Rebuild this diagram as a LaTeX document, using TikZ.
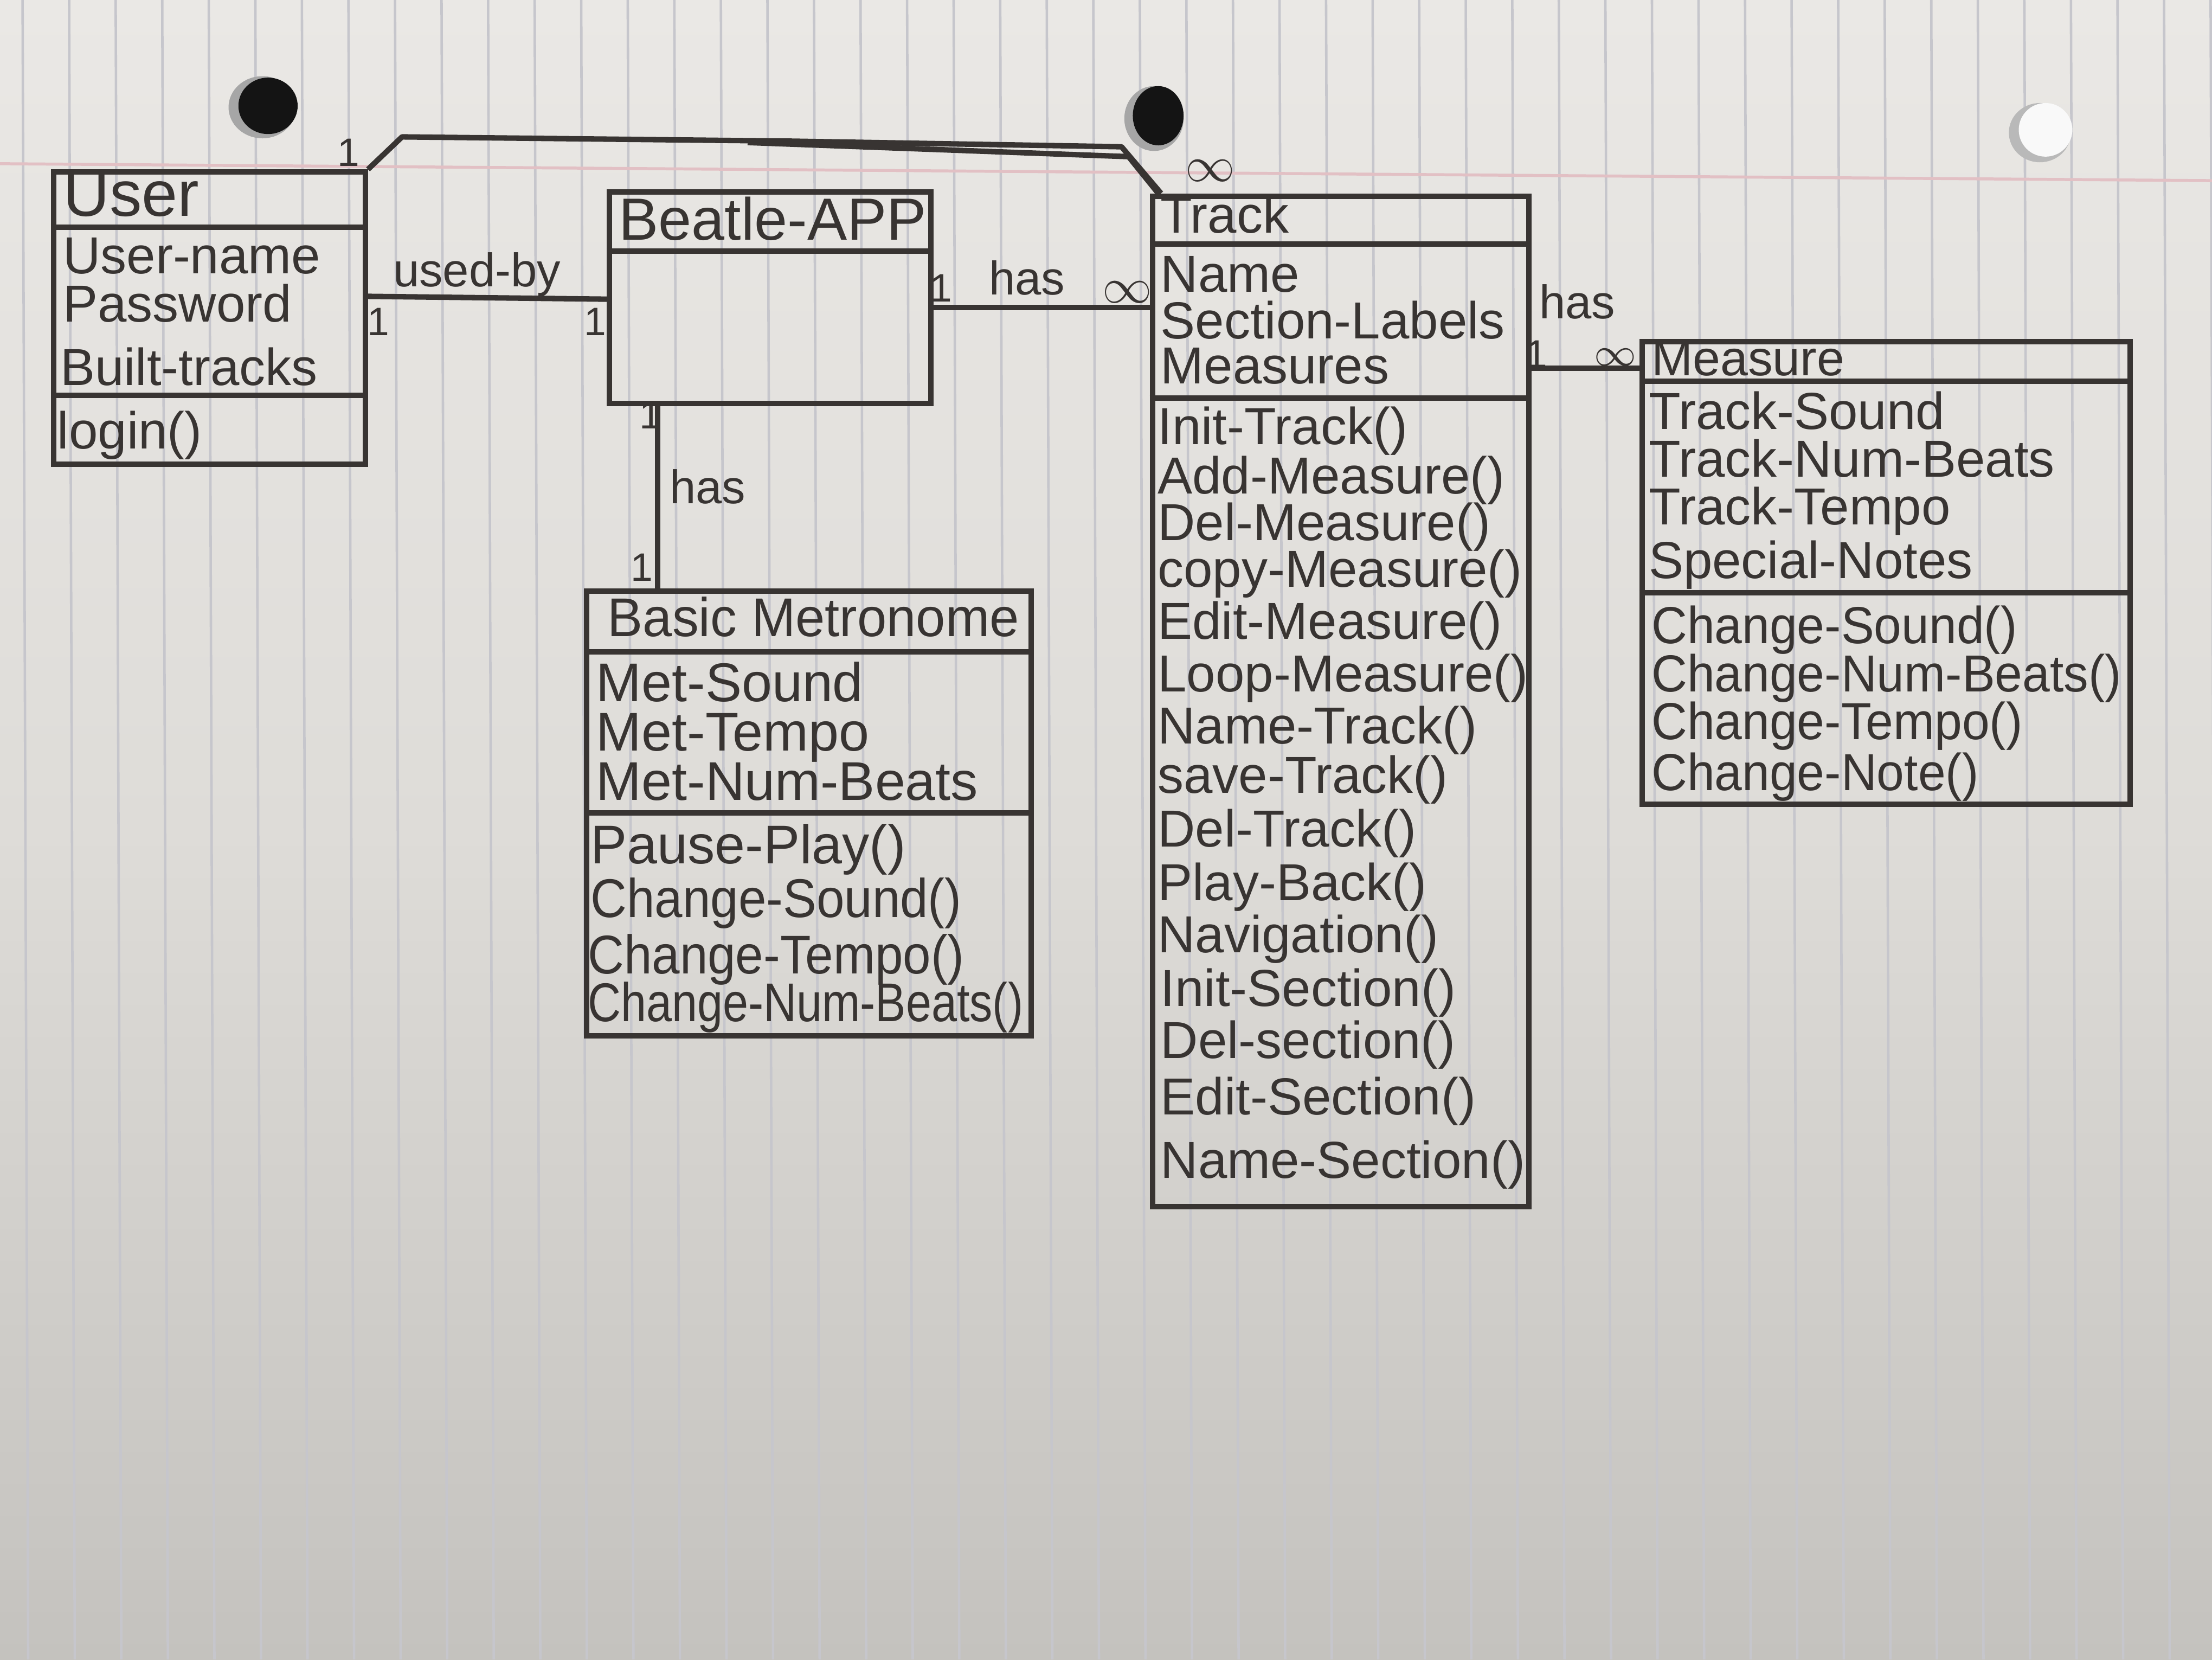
\documentclass[tikz,border=0pt]{standalone}
\usepackage{fontspec}
\usepackage{graphicx}
\setmainfont{Liberation Sans}
\usetikzlibrary{calc}
\definecolor{ink}{RGB}{56,52,50}
\definecolor{paperlight}{RGB}{234,232,229}
\definecolor{papermid}{RGB}{222,220,216}
\definecolor{paperdark}{RGB}{196,194,190}
\definecolor{rulecol}{RGB}{198,198,204}
\definecolor{margincol}{RGB}{226,192,196}
\tikzset{
  classbox/.style={draw=ink, line width=1.1pt, anchor=north west, inner sep=0pt},
  sepline/.style={draw=ink, line width=1.1pt},
  conn/.style={draw=ink, line width=1.1pt, line join=round},
  ttl/.style={text=ink, anchor=base west, inner sep=0pt, font=\fontsize{12}{12}\selectfont},
  ent/.style={text=ink, anchor=base west, inner sep=0pt, font=\fontsize{10.5}{10.5}\selectfont},
  lbl/.style={text=ink, inner sep=0pt, font=\fontsize{9.5}{9.5}\selectfont},
  mult/.style={text=ink, inner sep=0pt, font=\fontsize{8}{8}\selectfont},
  inf/.style={text=ink, inner sep=0pt, font=\fontsize{10}{10}\selectfont},
}
\newcommand{\sqz}[2]{\scalebox{#1}[1]{#2}}
\begin{document}
\begin{tikzpicture}[x=0.1mm,y=-0.1mm]
\useasboundingbox (0,0) rectangle (1568,1176);
% paper
\shade[top color=paperlight, bottom color=paperdark, middle color=papermid] (0,0) rectangle (1568,1176);
\foreach \i in {0,...,47} {
  \draw[rulecol, line width=0.5pt] ({16+33*\i},0) -- ({20+33*\i},1176);
}
\draw[margincol, line width=0.6pt] (0,116) -- (1568,128);
% punched holes
\fill[gray!70] (186,76) ellipse [x radius=24, y radius=22];
\fill[black!92] (190,75) ellipse [x radius=21, y radius=20];
\fill[gray!70] (818,84) ellipse [x radius=21, y radius=23];
\fill[black!92] (821,82) ellipse [x radius=18, y radius=21];
\fill[gray!55] (1446,94) ellipse [x radius=22, y radius=21];
\fill[white!95!gray] (1450,92) ellipse [x radius=19, y radius=19];

% ---------- User ----------
\node[classbox, minimum width=22.1mm, minimum height=20.7mm] (user) at (36,120) {};
\draw[sepline] ($(user.north west)+(0,41)$) -- ($(user.north east)+(0,41)$);
\draw[sepline] ($(user.north west)+(0,160)$) -- ($(user.north east)+(0,160)$);
\node[ttl, font=\fontsize{13}{13}\selectfont] (userT) at (44,153) {User};
\node[ent] (userA1) at (44,194) {User-name};
\node[ent] (userA2) at (44,228) {Password};
\node[ent] (userA3) at (42,273) {Built-tracks};
\node[ent] (userM1) at (40,318) {login()};

% ---------- Beatle-APP ----------
\node[classbox, minimum width=22.8mm, minimum height=15.0mm] (beatle) at (430,134) {};
\draw[sepline] ($(beatle.north west)+(0,44)$) -- ($(beatle.north east)+(0,44)$);
\node[ttl] (beatleT) at (438,170) {Beatle-APP};

% ---------- Track ----------
\node[classbox, minimum width=26.7mm, minimum height=71.6mm] (track) at (815,137) {};
\draw[sepline] ($(track.north west)+(0,36)$) -- ($(track.north east)+(0,36)$);
\draw[sepline] ($(track.north west)+(0,145)$) -- ($(track.north east)+(0,145)$);
\node[ttl, font=\fontsize{10.5}{10.5}\selectfont] (trackT) at (822,165) {Track};
\node[ent] (trackA1) at (822,207) {Name};
\node[ent] (trackA2) at (822,240) {Section-Labels};
\node[ent] (trackA3) at (822,272) {Measures};
\node[ent] (trackM1) at (820,315) {Init-Track()};
\node[ent] (trackM2) at (820,350) {Add-Measure()};
\node[ent] (trackM3) at (820,383) {Del-Measure()};
\node[ent] (trackM4) at (820,416) {copy-Measure()};
\node[ent] (trackM5) at (820,453) {Edit-Measure()};
\node[ent] (trackM6) at (820,490) {Loop-Measure()};
\node[ent] (trackM7) at (820,527) {Name-Track()};
\node[ent] (trackM8) at (820,562) {save-Track()};
\node[ent] (trackM9) at (820,600) {Del-Track()};
\node[ent] (trackM10) at (820,638) {Play-Back()};
\node[ent] (trackM11) at (820,675) {Navigation()};
\node[ent] (trackM12) at (822,713) {Init-Section()};
\node[ent] (trackM13) at (822,750) {Del-section()};
\node[ent] (trackM14) at (822,790) {Edit-Section()};
\node[ent] (trackM15) at (822,835) {Name-Section()};

% ---------- Measure ----------
\node[classbox, minimum width=34.6mm, minimum height=32.8mm] (measure) at (1162,240) {};
\draw[sepline] ($(measure.north west)+(0,30)$) -- ($(measure.north east)+(0,30)$);
\draw[sepline] ($(measure.north west)+(0,180)$) -- ($(measure.north east)+(0,180)$);
\node[ent, font=\fontsize{10}{10}\selectfont] (measureT) at (1170,266) {Measure};
\node[ent] (measureA1) at (1168,304) {Track-Sound};
\node[ent] (measureA2) at (1168,338) {Track-Num-Beats};
\node[ent] (measureA3) at (1168,372) {Track-Tempo};
\node[ent] (measureA4) at (1168,410) {Special-Notes};
\node[ent] (measureM1) at (1170,456) {\sqz{0.95}{Change-Sound()}};
\node[ent] (measureM2) at (1170,490) {\sqz{0.95}{Change-Num-Beats()}};
\node[ent] (measureM3) at (1170,524) {\sqz{0.95}{Change-Tempo()}};
\node[ent] (measureM4) at (1170,560) {\sqz{0.95}{Change-Note()}};

% ---------- Basic Metronome ----------
\node[classbox, minimum width=31.5mm, minimum height=31.5mm] (metro) at (414,417) {};
\draw[sepline] ($(metro.north west)+(0,45)$) -- ($(metro.north east)+(0,45)$);
\draw[sepline] ($(metro.north west)+(0,159)$) -- ($(metro.north east)+(0,159)$);
\node[ttl, font=\fontsize{11}{11}\selectfont] (metroT) at (430,451) {\sqz{0.97}{Basic Metronome}};
\node[ent, font=\fontsize{11}{11}\selectfont] (metroA1) at (422,497) {Met-Sound};
\node[ent, font=\fontsize{11}{11}\selectfont] (metroA2) at (422,532) {Met-Tempo};
\node[ent, font=\fontsize{11}{11}\selectfont] (metroA3) at (422,567) {Met-Num-Beats};
\node[ent, font=\fontsize{11}{11}\selectfont] (metroM1) at (418,612) {Pause-Play()};
\node[ent, font=\fontsize{11}{11}\selectfont] (metroM2) at (418,650) {\sqz{0.92}{Change-Sound()}};
\node[ent, font=\fontsize{11}{11}\selectfont] (metroM3) at (416,690) {\sqz{0.92}{Change-Tempo()}};
\node[ent, font=\fontsize{11}{11}\selectfont] (metroM4) at (416,724) {\sqz{0.84}{Change-Num-Beats()}};

% ---------- connectors ----------
% User -- Beatle-APP
\draw[conn] ($(user.north east)+(0,90)$) -- ($(beatle.north west)+(0,78)$);
\node[lbl, anchor=base west] (usedby) at (278,203) {used-by};
\node[mult] (m1) at (268,228) {1};
\node[mult] (m2) at (422,228) {1};

% Beatle-APP -- Track
\draw[conn] ($(beatle.north east)+(0,84)$) -- ($(track.north west)+(0,81)$);
\node[lbl] (has1) at (728,197) {has};
\node[mult] (m3) at (667,204) {1};
\node[inf] (m4) at (799,207) {$\infty$};

% Beatle-APP -- Basic Metronome
\draw[conn] ($(beatle.south west)+(36,0)$) -- ($(metro.north west)+(52,0)$);
\node[lbl, anchor=west] (has2) at (474,345) {has};
\node[mult] (m5) at (461,294) {1};
\node[mult] (m6) at (455,402) {1};

% Track -- Measure
\draw[conn] ($(track.north east)+(0,124)$) -- ($(measure.north west)+(0,21)$);
\node[lbl] (has3) at (1118,214) {has};
\node[mult] (m7) at (1089,251) {1};
\node[inf, font=\fontsize{8.5}{8.5}\selectfont] (m8) at (1145,253) {$\infty$};

% User -- Track (double stroke)
\coordinate (ut1) at (285,97);
\coordinate (ut2) at (560,100);
\coordinate (ut3) at (795,104);
\coordinate (ut4) at (530,101);
\coordinate (ut5) at (800,111);
\draw[conn] (user.north east) -- (ut1) -- (ut2) -- (ut3) -- ($(track.north west)+(8,0)$);
\draw[conn] (ut4) -- (ut5) -- ($(track.north west)+(6,0)$);
\node[mult] (m9) at (247,108) {1};
\node[inf] (m10) at (858,121) {$\infty$};
\end{tikzpicture}
\end{document}
